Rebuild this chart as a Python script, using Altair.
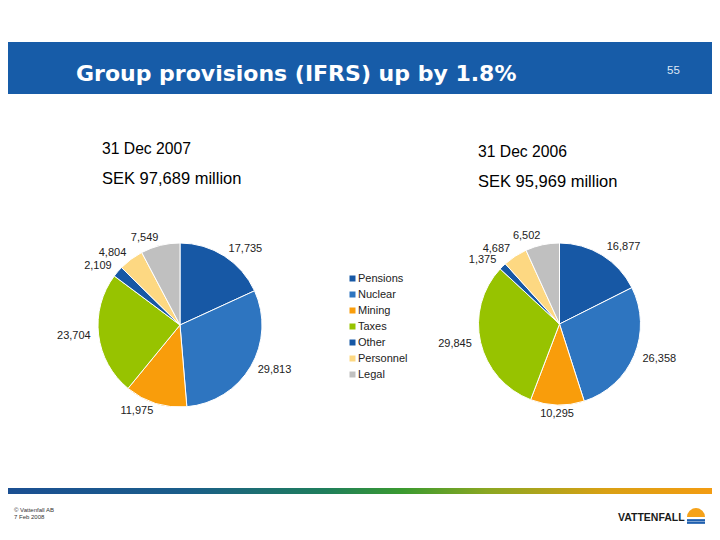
import altair as alt
import pandas as pd

# ---------------- data ----------------
categories = ["Pensions", "Nuclear", "Mining", "Taxes", "Other", "Personnel", "Legal"]
values_2007 = [17735, 29813, 11975, 23704, 2109, 4804, 7549]
values_2006 = [16877, 26358, 10295, 29845, 1375, 4687, 6502]
colors = ["#1758a5", "#2e75c0", "#f99d0b", "#97c300", "#1758a5", "#fdd882", "#c0c0c0"]

title_text = "Group provisions (IFRS) up by 1.8%"
page_no = "55"
left_date, left_total = "31 Dec 2007", "SEK 97,689 million"
right_date, right_total = "31 Dec 2006", "SEK 95,969 million"
footer_lines = ["\u00a9 Vattenfall AB", "7 Feb 2008"]
logo_text = "VATTENFALL"

W, H = 704, 524
FONT = "Liberation Sans"
one = pd.DataFrame({"k": [0]})

color_scale = alt.Scale(domain=categories, range=colors)


def pie(values, cx, cy, r, label_r):
    df = pd.DataFrame({"category": categories, "value": values,
                       "idx": list(range(len(categories)))})
    base = (
        alt.Chart(df)
        .transform_joinaggregate(total="sum(value)")
        .transform_window(cum="sum(value)", sort=[alt.SortField("idx")], frame=[None, 0])
        .transform_calculate(
            mid="(datum.cum - datum.value / 2) / datum.total",
            label="format(datum.value, ',')",
        )
        .transform_calculate(
            centre="abs(datum.mid - 0.5) < 0.03 || datum.mid < 0.03 || datum.mid > 0.97",
        )
        .transform_calculate(
            lab_r="(!datum.centre && datum.mid < 0.5) ? datum.label : ''",
            lab_l="(!datum.centre && datum.mid >= 0.5) ? datum.label : ''",
            lab_c="datum.centre ? datum.label : ''",
        )
    )
    theta = alt.Theta("value:Q", stack=True)
    order = alt.Order("idx:Q", sort="ascending")
    arc = base.mark_arc(radius=r, stroke="white", strokeWidth=1).encode(
        theta=theta, order=order,
        color=alt.Color("category:N", scale=color_scale,
                        legend=alt.Legend(orient="none", legendX=339, legendY=265,
                                          symbolType="square", symbolSize=36,
                                          symbolStrokeWidth=0, labelFont=FONT,
                                          labelFontSize=11, labelColor="#222222",
                                          rowPadding=4, labelOffset=0, padding=0,
                                          title=None)),
        x=alt.value(cx), y=alt.value(cy),
    )
    layers = [arc]
    for fld, al in (("lab_r", "left"), ("lab_l", "right"), ("lab_c", "center")):
        layers.append(
            base.mark_text(align=al, baseline="middle", radius=label_r,
                           font=FONT, fontSize=11, color="#222222").encode(
                theta=theta, order=order, text=alt.Text(f"{fld}:N"),
                x=alt.value(cx), y=alt.value(cy))
        )
    return alt.layer(*layers)


def txt(s, x, y, size, color="#000000", weight="normal", align="left",
        baseline="alphabetic", font=FONT):
    return alt.Chart(one).mark_text(text=s, font=font, fontSize=size, color=color,
                                    fontWeight=weight, align=align, baseline=baseline).encode(
        x=alt.value(x), y=alt.value(y))


header = alt.Chart(one).mark_rect(color="#175ca8").encode(
    x=alt.value(0), x2=alt.value(W), y=alt.value(34), y2=alt.value(86))

gradient = alt.Chart(one).mark_rect(fill={
    "gradient": "linear", "x1": 0, "x2": 1, "y1": 0, "y2": 0,
    "stops": [
        {"offset": 0.0, "color": "#1b4f92"},
        {"offset": 0.25, "color": "#1a5d8a"},
        {"offset": 0.45, "color": "#1f7e5c"},
        {"offset": 0.56, "color": "#3a9a30"},
        {"offset": 0.68, "color": "#8aa722"},
        {"offset": 0.85, "color": "#d9a014"},
        {"offset": 1.0, "color": "#f39c12"},
    ]}).encode(x=alt.value(0), x2=alt.value(W), y=alt.value(480), y2=alt.value(486))

sun = alt.Chart(one).mark_arc(color="#f5a21a", radius=9).encode(
    theta=alt.value(4.712), theta2=alt.value(7.854),
    x=alt.value(688), y=alt.value(509))
waves = alt.Chart(pd.DataFrame({"k": [0, 1]})).mark_rule(color="#1f5fae", strokeWidth=2.2).encode(
    x=alt.value(679), x2=alt.value(697),
    y=alt.Y("k:O", scale=alt.Scale(range=[511, 516]), axis=None))

chart = alt.layer(
    header,
    txt(title_text, 68, 72.5, 22, color="#ffffff", weight="bold", font="DejaVu Sans"),
    txt(page_no, 659, 66, 11.5, color="#dfe8f5"),
    txt(left_date, 94, 146, 15.7),
    txt(left_total, 94, 175.5, 16.5),
    txt(right_date, 470, 149, 15.7),
    txt(right_total, 470, 179, 16.5),
    pie(values_2007, 172, 317, 82, 90),
    pie(values_2006, 551.5, 316, 81, 90),
    gradient,
    txt(footer_lines[0], 6, 504, 6, color="#333333"),
    txt(footer_lines[1], 6, 511, 6, color="#333333"),
    txt(logo_text, 610, 513, 10.5, color="#1a1a1a", weight="bold"),
    sun,
    waves,
).resolve_scale(theta="independent", y="independent").properties(
    width=W, height=H, padding=0,
    autosize=alt.AutoSizeParams(type="none"),
).configure_view(strokeWidth=0)

chart.save("out.html", embed_options={"renderer": "svg", "actions": False})
